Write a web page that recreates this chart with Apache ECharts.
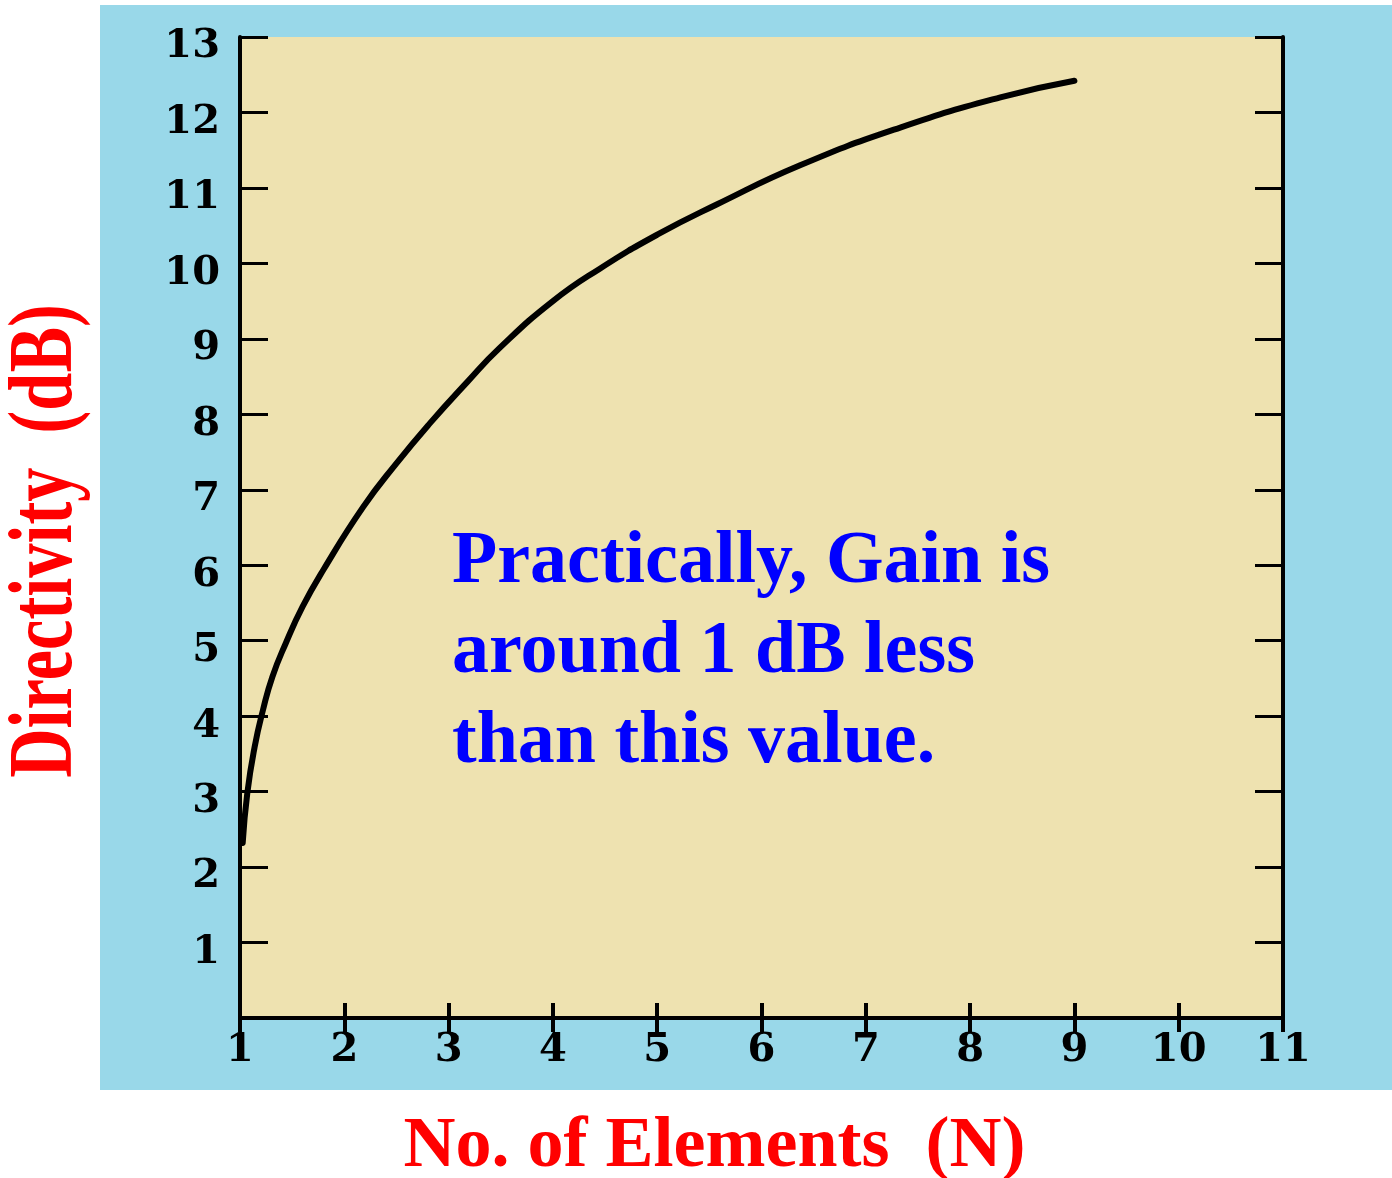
<!DOCTYPE html>
<html>
<head>
<meta charset="utf-8">
<script src="https://cdn.jsdelivr.net/npm/echarts@6/dist/echarts.min.js"></script>
<style>
html,body{margin:0;padding:0;background:#fff}
#main{width:1392px;height:1178px}
</style>
</head>
<body>
<div id="main"></div>
<script>
// values
var elements = [1.026, 1.07, 1.14, 1.22, 1.31, 1.44, 1.6, 1.8, 2.18, 2.5, 2.82, 3.18, 3.49, 4.0, 4.45, 5.0, 5.57, 6.37, 7.33, 8.29, 9.0];
var directivity = [2.32, 2.98, 3.59, 4.08, 4.52, 4.97, 5.45, 5.94, 6.77, 7.35, 7.88, 8.43, 8.88, 9.5, 9.93, 10.38, 10.78, 11.3, 11.8, 12.2, 12.42];
var xRange = [1, 11];
var yRange = [0, 13];
var xTitle = 'No. of Elements  (N)';
var yTitle = 'Directivity  (dB)';
var note = 'Practically, Gain is\naround 1 dB less\nthan this value.';

var chartDom = document.getElementById('main');
var myChart = echarts.init(chartDom);

var tickFont = {
  fontFamily: '"DejaVu Serif"',
  fontWeight: 'bold',
  fontSize: 40,
  color: '#000'
};

var option = {
  backgroundColor: '#fff',
  animation: false,
  grid: {
    left: 240,
    right: 109,
    top: 37,
    bottom: 160,
    containLabel: false,
    outerBoundsMode: 'none',
    show: true,
    backgroundColor: '#EEE2B0',
    borderWidth: 0
  },
  xAxis: [{
    type: 'value',
    min: xRange[0],
    max: xRange[1],
    interval: 1,
    position: 'bottom',
    name: xTitle,
    nameLocation: 'middle',
    nameGap: 93,
    nameTextStyle: {
      fontFamily: '"Liberation Serif"',
      fontWeight: 'bold',
      fontSize: 72,
      color: '#FF0000',
      padding: [0, 94, 0, 0]
    },
    axisLine: {lineStyle: {color: '#000', width: 4}},
    axisTick: {inside: true, length: 15, lineStyle: {color: '#000', width: 4}},
    axisLabel: Object.assign({margin: 13}, tickFont),
    splitLine: {show: false}
  }, {
    type: 'value',
    min: xRange[0],
    max: xRange[1],
    interval: 1,
    position: 'top',
    axisLine: {lineStyle: {color: '#000', width: 3}},
    axisTick: {inside: true, length: 14, lineStyle: {color: '#000', width: 4}},
    axisLabel: {show: false},
    splitLine: {show: false}
  }],
  yAxis: [{
    type: 'value',
    min: yRange[0],
    max: yRange[1],
    interval: 1,
    position: 'left',
    axisLine: {lineStyle: {color: '#000', width: 4}},
    axisTick: {inside: true, length: 28, lineStyle: {color: '#000', width: 3}},
    axisLabel: Object.assign({
      margin: 20,
      verticalAlign: 'top',
      lineHeight: 20,
      formatter: function(v){ return v === 0 ? '' : v; }
    }, tickFont),
    splitLine: {show: false}
  }, {
    type: 'value',
    min: yRange[0],
    max: yRange[1],
    interval: 1,
    position: 'right',
    axisLine: {lineStyle: {color: '#000', width: 4}},
    axisTick: {inside: true, length: 28, lineStyle: {color: '#000', width: 3}},
    axisLabel: {show: false},
    splitLine: {show: false}
  }],
  graphic: [{
    type: 'rect',
    z: -100,
    shape: {x: 100, y: 5, width: 1292, height: 1085},
    style: {fill: '#99D8E9'}
  }, {
    type: 'text',
    x: 48,
    y: 541,
    rotation: Math.PI / 2,
    scaleX: 0.76,
    style: {
      text: yTitle,
      font: 'bold 90px "Liberation Serif"',
      fill: '#FF0000',
      textAlign: 'center',
      textVerticalAlign: 'middle'
    }
  }, {
    type: 'text',
    x: 452,
    y: 518,
    z: 10,
    style: {
      text: note,
      font: 'bold 74px "Liberation Serif"',
      lineHeight: 90,
      fill: '#0000FF',
      textAlign: 'left',
      textVerticalAlign: 'top'
    }
  }],
  series: [{
    type: 'line',
    xAxisIndex: 0,
    yAxisIndex: 0,
    data: elements.map(function(n, i){ return [n, directivity[i]]; }),
    smooth: 0.5,
    showSymbol: false,
    lineStyle: {color: '#000', width: 6, cap: 'round'}
  }]
};
myChart.setOption(option);
</script>
</body>
</html>
